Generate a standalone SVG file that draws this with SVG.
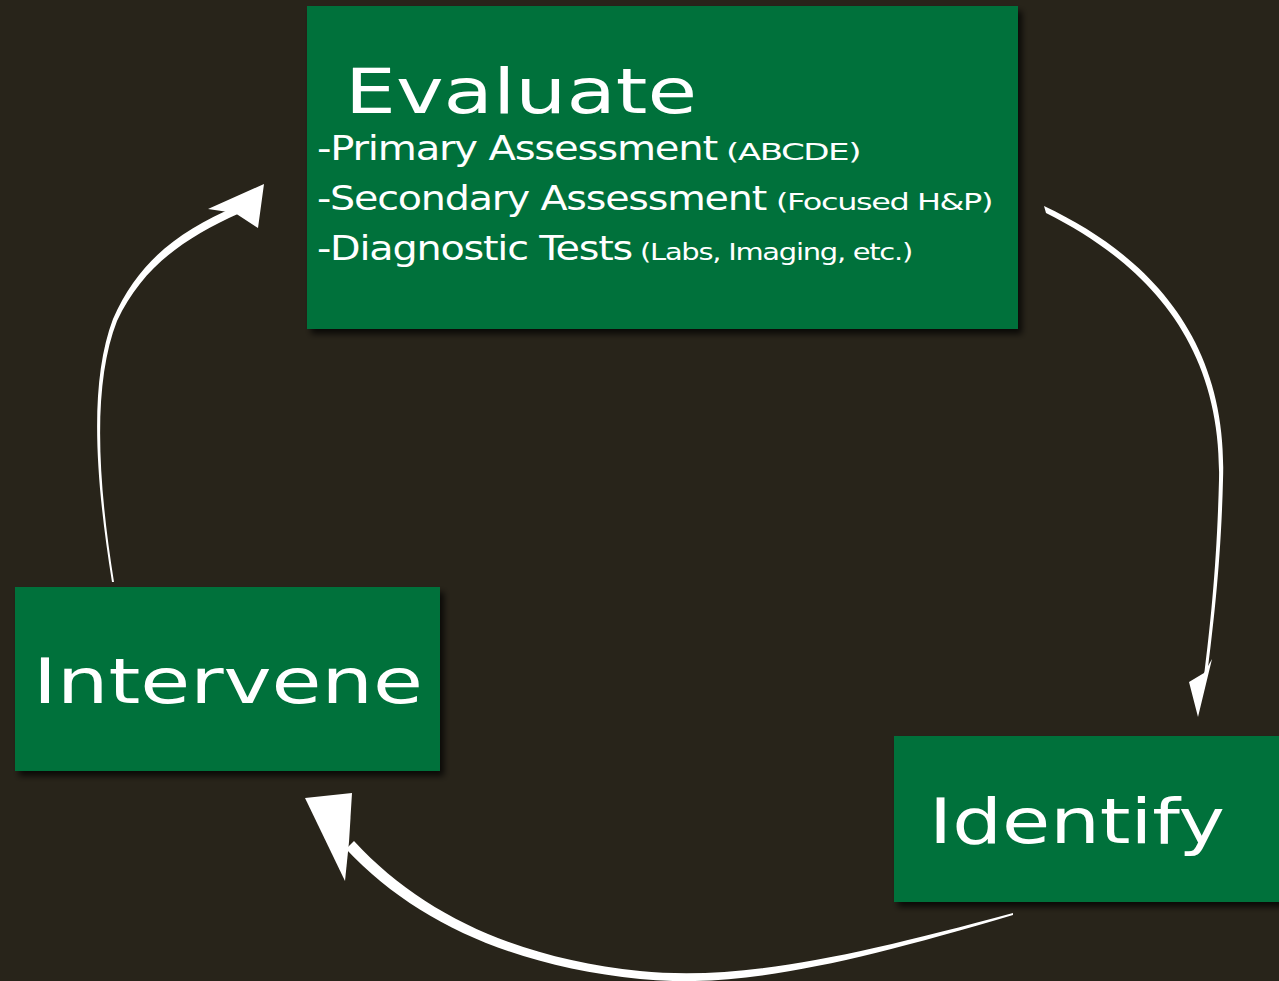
<svg xmlns="http://www.w3.org/2000/svg" width="1279" height="981" viewBox="0 0 1279 981">
<defs>
<filter id="sh" x="-10%" y="-10%" width="130%" height="130%">
<feDropShadow dx="4" dy="5" stdDeviation="3" flood-color="#000" flood-opacity="0.75"/>
</filter>
<style>
.box{fill:#00713A;filter:url(#sh)}
.t{fill:#fff;font-family:"DejaVu Sans","Liberation Sans",sans-serif}
.big{font-size:62px}
.mid{font-size:33px;letter-spacing:-1px}
.sm{font-size:23px;letter-spacing:-1px}
.arr{fill:#fff}
</style>
</defs>
<rect width="1279" height="981" fill="#28241A"/>
<g id="connectors">
<path class="arr" d="M1044,206 C1150,256 1228,340 1223,480 C1221,560 1214,620 1207,676 L1204,676 C1211,620 1217,560 1219,480 C1222,345 1148,264 1046,213 Z"/>
<path class="arr" d="M1198,717 L1189,682 L1204,673 L1212,659 Z"/>
<path class="arr" d="M1013,913 C850,957 740,981 640,971 C522,959 424,917 354,841 L346,849 C416,924 518,967 640,979 C740,989 851,963 1013,915 Z"/>
<path class="arr" d="M305,798 L352,793 L349,842 L345,881 Z"/>
<path class="arr" d="M112,582 C94,470 90,380 113,319 C138,262 178,231 237,206 L240,213 C182,239 142,268 117,321 C94,380 96,470 114,582 Z"/>
<path class="arr" d="M264,184 L208,209 L235,213 L258,228 Z"/>
</g>
<g id="evaluate">
<rect class="box" x="307" y="6" width="711" height="323"/>
<text class="t big" x="345" y="113" textLength="352" lengthAdjust="spacingAndGlyphs">Evaluate</text>
<text class="t mid" x="317" y="160" textLength="400" lengthAdjust="spacingAndGlyphs">-Primary Assessment</text>
<text class="t sm" x="726" y="160" textLength="134" lengthAdjust="spacingAndGlyphs">(ABCDE)</text>
<text class="t mid" x="317" y="210" textLength="449" lengthAdjust="spacingAndGlyphs">-Secondary Assessment</text>
<text class="t sm" x="776" y="210" textLength="216" lengthAdjust="spacingAndGlyphs">(Focused H&amp;P)</text>
<text class="t mid" x="317" y="260" textLength="315" lengthAdjust="spacingAndGlyphs">-Diagnostic Tests</text>
<text class="t sm" x="640" y="260" textLength="272" lengthAdjust="spacingAndGlyphs">(Labs, Imaging, etc.)</text>
</g>
<g id="intervene">
<rect class="box" x="15" y="587" width="425" height="184"/>
<text class="t big" x="33" y="703" textLength="390" lengthAdjust="spacingAndGlyphs">Intervene</text>
</g>
<g id="identify">
<rect class="box" x="894" y="736" width="390" height="166"/>
<text class="t big" x="929" y="843" textLength="296" lengthAdjust="spacingAndGlyphs">Identify</text>
</g>
</svg>
